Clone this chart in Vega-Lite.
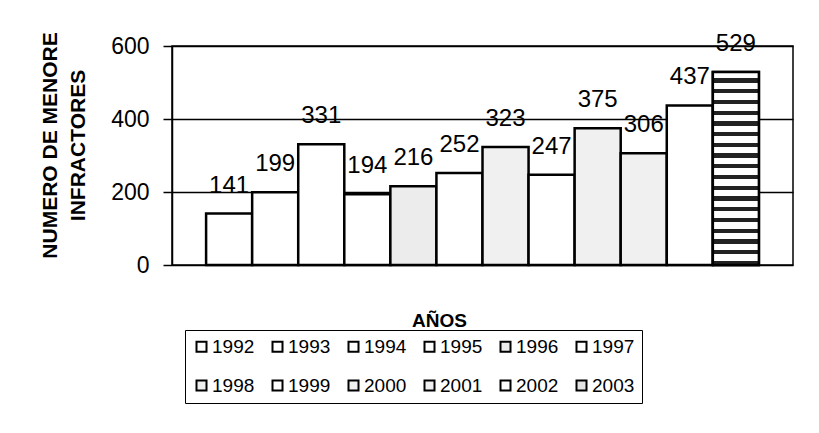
{
  "$schema": "https://vega.github.io/schema/vega-lite/v6.json",
  "width": 621,
  "height": 219,
  "autosize": "none",
  "padding": {"left": 172, "top": 46, "right": 26, "bottom": 168},
  "background": "white",
  "config": {
    "font": "Liberation Sans",
    "view": {"stroke": "black", "strokeWidth": 1.5}
  },
  "data": {
    "values": [
      {"year": "1992", "value": 141},
      {"year": "1993", "value": 199},
      {"year": "1994", "value": 331},
      {"year": "1995", "value": 194},
      {"year": "1996", "value": 216},
      {"year": "1997", "value": 252},
      {"year": "1998", "value": 323},
      {"year": "1999", "value": 247},
      {"year": "2000", "value": 375},
      {"year": "2001", "value": 306},
      {"year": "2002", "value": 437},
      {"year": "2003", "value": 529}
    ]
  },
  "encoding": {
    "x": {
      "field": "year",
      "type": "nominal",
      "scale": {"paddingInner": 0, "paddingOuter": 0.74},
      "axis": {
        "labels": false,
        "ticks": false,
        "domain": false,
        "title": "AÑOS",
        "titleFontSize": 19,
        "titleFontWeight": "bold",
        "titleColor": "black",
        "titlePadding": 46,
        "titleX": 267,
        "titleAnchor": "middle"
      }
    },
    "y": {
      "field": "value",
      "type": "quantitative",
      "scale": {"domain": [0, 600], "nice": false},
      "axis": {
        "values": [0, 200, 400, 600],
        "grid": true,
        "gridColor": "black",
        "gridWidth": 1.5,
        "gridOpacity": 1,
        "domainColor": "black",
        "domainWidth": 1.5,
        "tickColor": "black",
        "tickSize": 9,
        "tickWidth": 1.5,
        "labelFontSize": 23,
        "labelColor": "black",
        "labelPadding": 14,
        "title": ["NUMERO DE MENORE", "INFRACTORES"],
        "titleFontSize": 21,
        "titleFontWeight": "bold",
        "titleColor": "black",
        "titlePadding": 22,
        "titleLineHeight": 28,
        "titleY": 99
      }
    }
  },
  "layer": [
    {
      "mark": {"type": "bar", "stroke": "black", "strokeWidth": 2.5},
      "encoding": {
        "fill": {
          "field": "year",
          "type": "nominal",
          "scale": {
            "range": ["#ffffff", "#ffffff", "#ffffff", "#ffffff", "#ececec", "#ffffff", "#f0f0f0", "#ffffff", "#f0f0f0", "#f0f0f0", "#ffffff", "#e4e4e4"]
          },
          "legend": {
            "title": null,
            "orient": "none",
            "legendX": 13,
            "legendY": 284,
            "direction": "horizontal",
            "columns": 6,
            "columnPadding": 13,
            "rowPadding": 19,
            "padding": 7,
            "strokeColor": "black",
            "symbolType": "square",
            "symbolSize": 100,
            "symbolStrokeColor": "black",
            "symbolStrokeWidth": 2,
            "symbolOpacity": 1,
            "labelFontSize": 19,
            "labelColor": "black",
            "labelOffset": 1
          }
        }
      }
    },
    {
      "transform": [{"filter": "datum.year == '2003'"}],
      "mark": {
        "type": "bar",
        "stroke": "black",
        "strokeWidth": 2.5,
        "fill": {
          "gradient": "linear",
          "x1": 0, "y1": 0, "x2": 0, "y2": 1,
          "stops": [
            {"offset": 0, "color": "#ffffff"}, {"offset": 0.0333, "color": "#ffffff"}, {"offset": 0.0333, "color": "#222222"}, {"offset": 0.0556, "color": "#222222"},
            {"offset": 0.0556, "color": "#ffffff"}, {"offset": 0.0889, "color": "#ffffff"}, {"offset": 0.0889, "color": "#222222"}, {"offset": 0.1111, "color": "#222222"},
            {"offset": 0.1111, "color": "#ffffff"}, {"offset": 0.1444, "color": "#ffffff"}, {"offset": 0.1444, "color": "#222222"}, {"offset": 0.1667, "color": "#222222"},
            {"offset": 0.1667, "color": "#ffffff"}, {"offset": 0.2, "color": "#ffffff"}, {"offset": 0.2, "color": "#222222"}, {"offset": 0.2222, "color": "#222222"},
            {"offset": 0.2222, "color": "#ffffff"}, {"offset": 0.2556, "color": "#ffffff"}, {"offset": 0.2556, "color": "#222222"}, {"offset": 0.2778, "color": "#222222"},
            {"offset": 0.2778, "color": "#ffffff"}, {"offset": 0.3111, "color": "#ffffff"}, {"offset": 0.3111, "color": "#222222"}, {"offset": 0.3333, "color": "#222222"},
            {"offset": 0.3333, "color": "#ffffff"}, {"offset": 0.3667, "color": "#ffffff"}, {"offset": 0.3667, "color": "#222222"}, {"offset": 0.3889, "color": "#222222"},
            {"offset": 0.3889, "color": "#ffffff"}, {"offset": 0.4222, "color": "#ffffff"}, {"offset": 0.4222, "color": "#222222"}, {"offset": 0.4444, "color": "#222222"},
            {"offset": 0.4444, "color": "#ffffff"}, {"offset": 0.4778, "color": "#ffffff"}, {"offset": 0.4778, "color": "#222222"}, {"offset": 0.5, "color": "#222222"},
            {"offset": 0.5, "color": "#ffffff"}, {"offset": 0.5333, "color": "#ffffff"}, {"offset": 0.5333, "color": "#222222"}, {"offset": 0.5556, "color": "#222222"},
            {"offset": 0.5556, "color": "#ffffff"}, {"offset": 0.5889, "color": "#ffffff"}, {"offset": 0.5889, "color": "#222222"}, {"offset": 0.6111, "color": "#222222"},
            {"offset": 0.6111, "color": "#ffffff"}, {"offset": 0.6444, "color": "#ffffff"}, {"offset": 0.6444, "color": "#222222"}, {"offset": 0.6667, "color": "#222222"},
            {"offset": 0.6667, "color": "#ffffff"}, {"offset": 0.7, "color": "#ffffff"}, {"offset": 0.7, "color": "#222222"}, {"offset": 0.7222, "color": "#222222"},
            {"offset": 0.7222, "color": "#ffffff"}, {"offset": 0.7556, "color": "#ffffff"}, {"offset": 0.7556, "color": "#222222"}, {"offset": 0.7778, "color": "#222222"},
            {"offset": 0.7778, "color": "#ffffff"}, {"offset": 0.8111, "color": "#ffffff"}, {"offset": 0.8111, "color": "#222222"}, {"offset": 0.8333, "color": "#222222"},
            {"offset": 0.8333, "color": "#ffffff"}, {"offset": 0.8667, "color": "#ffffff"}, {"offset": 0.8667, "color": "#222222"}, {"offset": 0.8889, "color": "#222222"},
            {"offset": 0.8889, "color": "#ffffff"}, {"offset": 0.9222, "color": "#ffffff"}, {"offset": 0.9222, "color": "#222222"}, {"offset": 0.9444, "color": "#222222"},
            {"offset": 0.9444, "color": "#ffffff"}, {"offset": 0.9778, "color": "#ffffff"}, {"offset": 0.9778, "color": "#222222"}, {"offset": 1, "color": "#222222"}
          ]
        }
      },
      "encoding": {}
    },
    {
      "mark": {"type": "text", "baseline": "bottom", "dy": -16, "fontSize": 24, "color": "black"},
      "encoding": {"text": {"field": "value", "type": "quantitative"}}
    }
  ]
}
